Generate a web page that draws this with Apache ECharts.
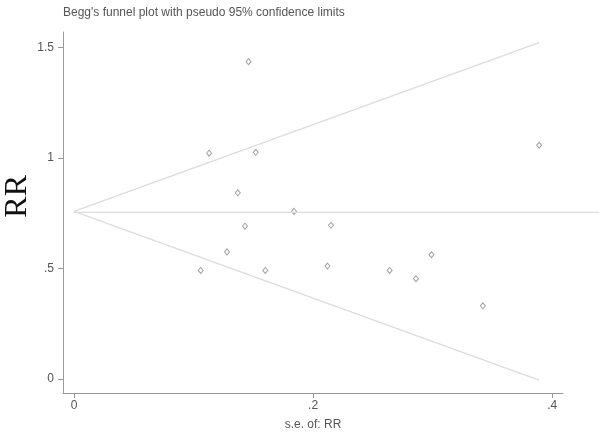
<!DOCTYPE html>
<html>
<head>
<meta charset="utf-8">
<script src="https://cdn.jsdelivr.net/npm/echarts@6/dist/echarts.min.js"></script>
<style>
  html, body { margin: 0; padding: 0; background: #fff; }
  #chart { width: 600px; height: 436px; }
</style>
</head>
<body>
<div id="chart"></div>
<script>
// study points: standard error vs RR
const seValues = [0.146, 0.113, 0.152, 0.137, 0.184, 0.143, 0.215, 0.128,
                  0.106, 0.160, 0.212, 0.264, 0.286, 0.299, 0.342, 0.389];
const rrValues = [1.435, 1.021, 1.025, 0.842, 0.758, 0.691, 0.695, 0.575,
                  0.491, 0.491, 0.511, 0.491, 0.454, 0.562, 0.331, 1.057];

// pooled estimate and pseudo 95% limits
const pooledSe = [0, 0.44];
const pooledRR = [0.758, 0.758];
const funnelSe = [0, 0.389];
const upperLimit = [0.758, 1.521];
const lowerLimit = [0.758, -0.005];

const xTicks = [0, 0.2, 0.4];
const yTicks = [0, 0.5, 1, 1.5];

const fmt = v => (v === 0 ? '0' : (Number.isInteger(v) ? String(v) : String(v).replace(/^0/, '')));

const pairs = (xs, ys) => xs.map((x, i) => [x, ys[i]]);

const chart = echarts.init(document.getElementById('chart'));

const lineStyle = { color: '#dcdcdc', width: 1.2 };
const labelFont = { fontFamily: 'Liberation Sans, Arial', fontSize: 12, color: '#555' };

chart.setOption({
  animation: false,
  title: {
    text: "Begg's funnel plot with pseudo 95% confidence limits",
    left: 58,
    top: 2,
    textStyle: Object.assign({ fontWeight: 'normal' }, labelFont)
  },
  graphic: [{
    type: 'text',
    left: 2,
    top: 175,
    rotation: Math.PI / 2,
    style: {
      text: 'RR',
      font: '32px "Liberation Serif", "Times New Roman", serif',
      fill: '#111'
    }
  }],
  grid: [
    { left: 63, right: 37, top: 32, bottom: 41 },
    // same scale, wider box: the pooled line runs on to the right edge
    { left: 63, right: 0, top: 32, bottom: 41 }
  ],
  xAxis: [
    {
      type: 'value',
      gridIndex: 0,
      min: -0.0092,
      max: 0.409,
      name: 's.e. of: RR',
      nameLocation: 'middle',
      nameGap: 26,
      nameTextStyle: labelFont,
      splitLine: { show: false },
      axisLine: { show: true, onZero: false, lineStyle: { color: '#999' } },
      axisTick: { show: true, length: 5, customValues: xTicks, lineStyle: { color: '#999' } },
      axisLabel: Object.assign({ customValues: xTicks, formatter: fmt, margin: 7 }, labelFont)
    },
    {
      type: 'value',
      gridIndex: 1,
      min: -0.0092,
      max: 0.4406,
      show: false
    }
  ],
  yAxis: [
    {
      type: 'value',
      gridIndex: 0,
      min: -0.063,
      max: 1.569,
      splitLine: { show: false },
      axisLine: { show: true, onZero: false, lineStyle: { color: '#999' } },
      axisTick: { show: true, length: 5, customValues: yTicks, lineStyle: { color: '#999' } },
      axisLabel: Object.assign({ customValues: yTicks, formatter: fmt, margin: 9 }, labelFont)
    },
    {
      type: 'value',
      gridIndex: 1,
      min: -0.063,
      max: 1.569,
      show: false
    }
  ],
  series: [
    {
      type: 'line',
      xAxisIndex: 1,
      yAxisIndex: 1,
      data: pairs(pooledSe, pooledRR),
      symbol: 'none',
      lineStyle: lineStyle,
      silent: true
    },
    {
      type: 'line',
      data: pairs(funnelSe, upperLimit),
      symbol: 'none',
      lineStyle: lineStyle,
      silent: true
    },
    {
      type: 'line',
      data: pairs(funnelSe, lowerLimit),
      symbol: 'none',
      clip: false,
      lineStyle: lineStyle,
      silent: true
    },
    {
      type: 'scatter',
      data: pairs(seValues, rrValues),
      symbol: 'diamond',
      symbolSize: [5, 6],
      itemStyle: { color: '#fff', borderColor: '#8a8a8a', borderWidth: 1 }
    }
  ]
});
</script>
</body>
</html>
